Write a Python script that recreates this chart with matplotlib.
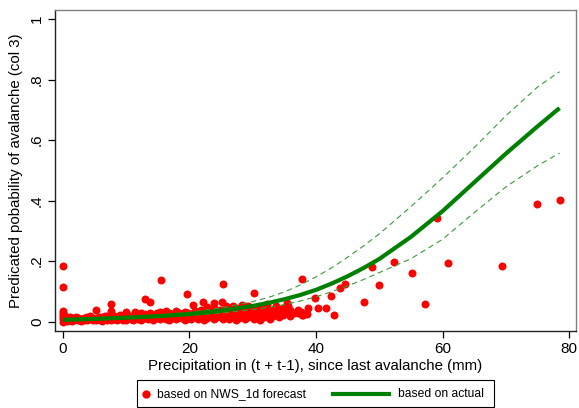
import matplotlib
matplotlib.use("Agg")
import matplotlib.pyplot as plt
from matplotlib.patches import Rectangle
from matplotlib.lines import Line2D

plt.rcParams['font.family'] = ['Liberation Sans', 'DejaVu Sans']

# scatter: predicted probability based on NWS_1d forecast
fc_x = [0, 0, 0, 0, 0, 0, 0, 0, 0.3, 0.3, 0.7, 0.7, 1.1, 1.1, 1.5, 1.5, 2.0, 2.0,
        2.4, 2.4, 2.9, 2.9, 3.3, 3.3, 3.8, 3.8, 4.2, 4.2, 4.7, 4.7, 5.2, 5.2, 5.2,
        5.7, 5.7, 6.1, 6.1, 6.6, 6.6, 7.0, 7.0, 7.6, 7.6, 7.6, 7.6, 8.1, 8.1, 8.5, 8.5,
        9.0, 9.0, 9.5, 9.5, 10.0, 10.0, 10.0, 10.5, 10.5, 11.0, 11.0, 11.4, 11.4,
        11.9, 11.9, 12.4, 12.4, 12.4, 12.9, 12.9, 12.9, 13.4, 13.4, 13.8, 13.8, 13.8,
        14.3, 14.3, 14.8, 14.8, 15.3, 15.3, 15.3, 15.5, 15.8, 15.8, 16.3, 16.3, 16.3,
        16.8, 16.8, 16.8, 17.3, 17.3, 17.8, 17.8, 17.8, 18.3, 18.3, 18.8, 18.8,
        19.3, 19.3, 19.3, 19.6, 19.8, 19.8, 20.3, 20.3, 20.6, 20.8, 20.8, 21.3, 21.3,
        21.3, 21.8, 21.8, 21.8, 22.1, 22.3, 22.3, 22.8, 22.8, 22.8, 23.3, 23.3,
        23.8, 23.8, 23.8, 23.8, 24.3, 24.3, 24.8, 24.8, 25.1, 25.3, 25.3, 25.3,
        25.8, 25.8, 25.8, 26.3, 26.3, 26.8, 26.8, 26.8, 27.3, 27.3, 27.3, 27.8, 27.8,
        28.3, 28.3, 28.3, 28.8, 28.8, 29.3, 29.3, 29.3, 29.8, 29.8, 30.2, 30.2, 30.2,
        30.7, 30.7, 31.2, 31.2, 31.2, 31.7, 31.7, 32.2, 32.2, 32.2, 32.7, 32.7,
        33.2, 33.2, 33.5, 33.7, 33.7, 34.2, 34.2, 34.8, 34.8, 35.1, 35.3, 35.4, 35.5,
        35.9, 35.9, 36.5, 37.2, 37.2, 37.7, 37.8, 37.8, 38.0, 38.5, 38.8, 39.8,
        40.3, 41.6, 42.3, 42.8, 43.8, 44.6, 47.6, 48.9, 49.9, 52.4, 55.1, 57.2,
        59.1, 60.8, 69.4, 74.9, 78.5]
fc_y = [0.184, 0.114, 0.0, 0.008, 0.015, 0.022, 0.03, 0.035, 0.005, 0.018, 0.01, 0.002,
        0.006, 0.014, 0.003, 0.012, 0.008, 0.016, 0.004, 0.011, 0.009, 0.002,
        0.013, 0.006, 0.004, 0.015, 0.01, 0.018, 0.005, 0.013, 0.038, 0.012, 0.004,
        0.008, 0.016, 0.003, 0.014, 0.01, 0.018, 0.006, 0.02, 0.058, 0.035, 0.012, 0.004,
        0.009, 0.02, 0.004, 0.015, 0.012, 0.022, 0.007, 0.017, 0.004, 0.024, 0.032,
        0.011, 0.02, 0.006, 0.016, 0.013, 0.033, 0.008, 0.02, 0.005, 0.017, 0.03,
        0.075, 0.012, 0.024, 0.009, 0.02, 0.064, 0.015, 0.028, 0.006, 0.022,
        0.012, 0.03, 0.008, 0.02, 0.033, 0.137, 0.015, 0.026, 0.01, 0.022, 0.035,
        0.006, 0.018, 0.03, 0.013, 0.026, 0.009, 0.02, 0.034, 0.016, 0.028, 0.011, 0.024,
        0.007, 0.02, 0.032, 0.09, 0.015, 0.03, 0.01, 0.025, 0.055, 0.02, 0.036,
        0.008, 0.018, 0.032, 0.014, 0.028, 0.04, 0.064, 0.005, 0.022, 0.012, 0.03,
        0.048, 0.018, 0.035, 0.008, 0.026, 0.045, 0.061, 0.014, 0.032, 0.022, 0.04,
        0.066, 0.124, 0.01, 0.03, 0.018, 0.042, 0.05, 0.008, 0.028, 0.015, 0.036,
        0.052, 0.005, 0.024, 0.044, 0.012, 0.032, 0.02, 0.04, 0.055, 0.008, 0.028,
        0.016, 0.036, 0.05, 0.024, 0.044, 0.094, 0.01, 0.032, 0.018, 0.04, 0.006,
        0.026, 0.048, 0.015, 0.036, 0.022, 0.045, 0.058, 0.01, 0.03, 0.018, 0.04,
        0.03, 0.028, 0.05, 0.014, 0.036, 0.022, 0.044, 0.041, 0.03, 0.061, 0.05,
        0.02, 0.038, 0.028, 0.03, 0.04, 0.033, 0.141, 0.021, 0.022, 0.024, 0.045,
        0.079, 0.044, 0.045, 0.086, 0.021, 0.111, 0.126, 0.065, 0.181, 0.121, 0.198,
        0.162, 0.057, 0.342, 0.195, 0.184, 0.388, 0.402]

# fitted curve based on actual precipitation, with confidence band
fit_x = [0, 5, 10, 15, 20, 25, 30, 32.5, 35, 37.5, 40, 42.5, 45, 47.5, 50, 55, 60,
         65, 70, 75, 78.5]
fit_y = [0.006, 0.009, 0.013, 0.018, 0.025, 0.036, 0.052, 0.062, 0.074, 0.088, 0.105,
         0.126, 0.150, 0.177, 0.207, 0.280, 0.365, 0.460, 0.555, 0.645, 0.706]
fit_hi = [0.008, 0.011, 0.016, 0.022, 0.031, 0.045, 0.066, 0.080, 0.098, 0.121, 0.148,
          0.178, 0.213, 0.250, 0.290, 0.380, 0.475, 0.575, 0.680, 0.775, 0.826]
fit_lo = [0.004, 0.007, 0.010, 0.014, 0.020, 0.028, 0.040, 0.047, 0.056, 0.068, 0.082,
          0.099, 0.118, 0.139, 0.162, 0.208, 0.272, 0.360, 0.445, 0.515, 0.557]

xticks = [0, 20, 40, 60, 80]
yticks = [0, 0.2, 0.4, 0.6, 0.8, 1]
ytick_labels = ['0', '.2', '.4', '.6', '.8', '1']

fig = plt.figure(figsize=(5.79, 4.08), dpi=100)
ax = fig.add_axes([55/579, 1 - 331/408, 521/579, 321/408])

ax.scatter(fc_x, fc_y, s=33, color='#ff0000', linewidths=0, zorder=2)
ax.plot(fit_x, fit_hi, color='#3a9a3a', lw=0.8, dashes=(5, 3.5), zorder=3)
ax.plot(fit_x, fit_lo, color='#3a9a3a', lw=0.8, dashes=(5, 3.5), zorder=3)
ax.plot(fit_x, fit_y, color='#008000', lw=3, solid_capstyle='butt', zorder=4)

ax.set_xlim(-1.26, 81.1)
ax.set_ylim(-0.031, 1.03)
ax.set_xticks(xticks)
ax.set_yticks(yticks)
ax.set_yticklabels(ytick_labels, rotation=90, va='center')
ax.tick_params(axis='both', labelsize=11, length=5, width=0.9, color='black', pad=3)

for side in ['top', 'right']:
    ax.spines[side].set_color('#808080')
    ax.spines[side].set_linewidth(1)
for side in ['left', 'bottom']:
    ax.spines[side].set_color('#222222')
    ax.spines[side].set_linewidth(1)

ax.set_xlabel('Precipitation in (t + t-1), since last avalanche (mm)', fontsize=10.8, labelpad=2)
ax.set_ylabel('Predicated pobability of avalanche (col 3)', fontsize=10.8, labelpad=5)

# legend box below the plot
fig.add_artist(Rectangle((137/579, 1/408), 357/579, 27/408, transform=fig.transFigure,
                         facecolor='white', edgecolor='black', lw=0.8))
fig.add_artist(Line2D([145.7/579], [1 - 394/408], marker='o', markersize=6, color='#ff0000',
                      markeredgewidth=0, transform=fig.transFigure))
fig.text(157/579, 1 - 394/408, 'based on NWS_1d forecast', fontsize=8.7, va='center')
fig.add_artist(Line2D([333/579, 389/579], [1 - 394/408, 1 - 394/408], color='#008000', lw=3,
                      transform=fig.transFigure))
fig.text(398/579, 1 - 394/408, 'based on actual', fontsize=8.7, va='center')

fig.savefig('out.png', dpi=100)
